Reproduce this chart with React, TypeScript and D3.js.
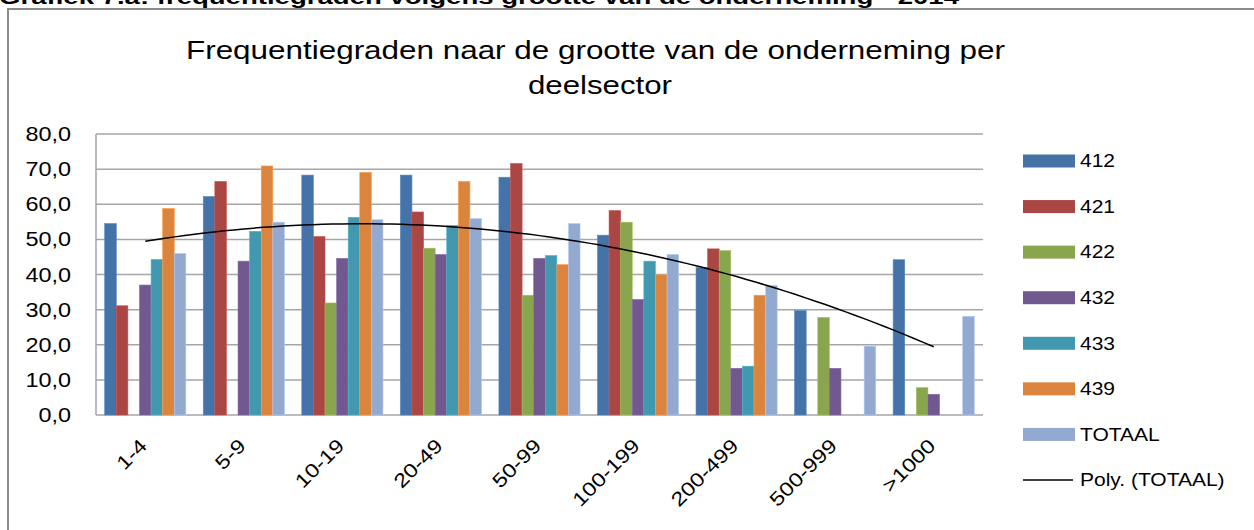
import React from 'react';
import * as d3 from 'd3';

// categories and series (null = no bar)
const categories = ['1-4', '5-9', '10-19', '20-49', '50-99', '100-199', '200-499', '500-999', '>1000'];
const seriesNames = ['412', '421', '422', '432', '433', '439', 'TOTAAL'];
const s412 = [54.5, 62.2, 68.3, 68.3, 67.7, 51.2, 42.0, 29.7, 44.2];
const s421 = [31.1, 66.5, 50.8, 57.8, 71.6, 58.2, 47.3, null, null];
const s422 = [null, null, 31.9, 47.5, 34.1, 54.9, 46.8, 27.8, 7.8];
const s432 = [37.0, 43.8, 44.6, 45.7, 44.6, 32.9, 13.3, 13.3, 5.9];
const s433 = [44.3, 52.3, 56.3, 54.0, 45.4, 43.8, 13.9, null, null];
const s439 = [58.8, 70.9, 69.1, 66.5, 42.8, 39.9, 34.1, null, null];
const totaal = [46.0, 54.9, 55.6, 55.9, 54.5, 45.7, 36.9, 19.6, 28.1];
const yTicks = [0, 10, 20, 30, 40, 50, 60, 70, 80];

const colors = ['#4572A7', '#AA4643', '#89A54E', '#71588F', '#4198AF', '#DB843D', '#93A9CF'];
const allSeries = [s412, s421, s422, s432, s433, s439, totaal];

const W = 1254;
const H = 530;
const plot = {left: 96, right: 983, top: 134, bottom: 415};
const SX = 1.2; // text in the picture is stretched sideways

// order 2 polynomial fit like Excel's "Poly." trendline
const polyFit = (ys) => {
  const n = ys.length;
  const xs = ys.map((_, i) => i + 1);
  const sum = (f) => d3.sum(xs, (x, i) => f(x, ys[i]));
  const s0 = n, s1 = sum(x => x), s2 = sum(x => x * x), s3 = sum(x => x ** 3), s4 = sum(x => x ** 4);
  const t0 = sum((x, y) => y), t1 = sum((x, y) => x * y), t2 = sum((x, y) => x * x * y);
  // solve 3x3 normal equations (Cramer)
  const det = (m) => m[0][0] * (m[1][1] * m[2][2] - m[1][2] * m[2][1])
    - m[0][1] * (m[1][0] * m[2][2] - m[1][2] * m[2][0])
    + m[0][2] * (m[1][0] * m[2][1] - m[1][1] * m[2][0]);
  const A = [[s0, s1, s2], [s1, s2, s3], [s2, s3, s4]];
  const B = [t0, t1, t2];
  const D = det(A);
  const coef = [0, 1, 2].map(k => det(A.map((row, r) => row.map((v, c) => (c === k ? B[r] : v)))) / D);
  return (x) => coef[0] + coef[1] * x + coef[2] * x * x;
};

const App = () => {
  const x0 = d3.scaleBand().domain(categories).range([plot.left, plot.right]).paddingInner(0).paddingOuter(0);
  const x1 = d3.scaleBand().domain(seriesNames).range([0, x0.bandwidth()]).paddingInner(0).paddingOuter(0.75);
  const y = d3.scaleLinear().domain([0, 80]).range([plot.bottom, plot.top]);

  const trend = polyFit(totaal);
  const trendPts = d3.range(1, 9.001, 0.1).map(t => [t, trend(t)]);
  const xCont = d3.scaleLinear().domain([1, 9])
    .range([x0(categories[0]) + x0.bandwidth() / 2, x0(categories[8]) + x0.bandwidth() / 2]);
  const trendLine = d3.line().x(d => xCont(d[0])).y(d => y(d[1]));

  const legendY = d3.scaleLinear().domain([0, 7]).range([161, 480]);

  return (
    <svg width={W} height={H} style={{position: 'fixed', left: 0, top: 0, background: '#fff'}}
      fontFamily="'Liberation Sans', Arial, sans-serif">
      <rect width={W} height={H} fill="#fff"/>
      {/* heading above the chart, cut by the top edge as in the picture */}
      <text x={-1} y={4} fontSize={20} fontWeight="bold" textLength={960} lengthAdjust="spacingAndGlyphs">
        Grafiek 7.a: frequentiegraden volgens grootte van de onderneming - 2014
      </text>
      <rect x={8} y={9} width={1260} height={600} fill="none" stroke="#8a8a8a" strokeWidth={2}/>

      <text x={186} y={58.5} fontSize={26} textLength={819} lengthAdjust="spacingAndGlyphs" fill="#000">
        Frequentiegraden naar de grootte van de onderneming per
      </text>
      <text x={528} y={93.5} fontSize={26} textLength={144} lengthAdjust="spacingAndGlyphs" fill="#000">deelsector</text>

      {/* grid */}
      {yTicks.map(t => (
        <line key={t} x1={plot.left} x2={plot.right} y1={y(t)} y2={y(t)} stroke="#a6a6a6" strokeWidth={1.5}/>
      ))}
      <line x1={plot.left} x2={plot.left} y1={plot.top} y2={plot.bottom} stroke="#a6a6a6" strokeWidth={1.5}/>
      {yTicks.map(t => (
        <text key={t} transform={`translate(71,${y(t)}) scale(${SX},1)`} fontSize={19.5}
          textAnchor="end" dy="0.36em" fill="#000">{d3.format('.1f')(t).replace('.', ',')}</text>
      ))}

      {/* bars */}
      {categories.map((c, ci) => (
        <g key={c} transform={`translate(${x0(c)},0)`}>
          {allSeries.map((s, si) => s[ci] == null ? null : (
            <rect key={si} x={x1(seriesNames[si])} width={x1.bandwidth()} y={y(s[ci])}
              height={y(0) - y(s[ci])} fill={colors[si]}
              stroke={d3.color(colors[si]).brighter(0.5).formatHex()} strokeWidth={0.6}/>
          ))}
        </g>
      ))}

      <path d={trendLine(trendPts)} fill="none" stroke="#000" strokeWidth={1.5}/>

      {/* category labels */}
      {categories.map(c => (
        <text key={c} transform={`translate(${x0(c) + x0.bandwidth() / 2 + 3},447) rotate(-45) scale(${SX},1)`}
          fontSize={19.5} textAnchor="end" fill="#000">{c}</text>
      ))}

      {/* legend */}
      {seriesNames.map((s, i) => (
        <g key={s} transform={`translate(0,${legendY(i)})`}>
          <rect x={1023} y={-6.5} width={52} height={13} fill={colors[i]}/>
          <text transform={`translate(1080,0) scale(${SX},1)`} fontSize={17.5} dy="0.36em" fill="#000">{s}</text>
        </g>
      ))}
      <g transform={`translate(0,${legendY(7)})`}>
        <line x1={1023} x2={1073} y1={0} y2={0} stroke="#000" strokeWidth={1.5}/>
        <text transform={`translate(1080,0) scale(${SX},1)`} fontSize={17.5} dy="0.36em" fill="#000">Poly. (TOTAAL)</text>
      </g>
    </svg>
  );
};

export default App;
